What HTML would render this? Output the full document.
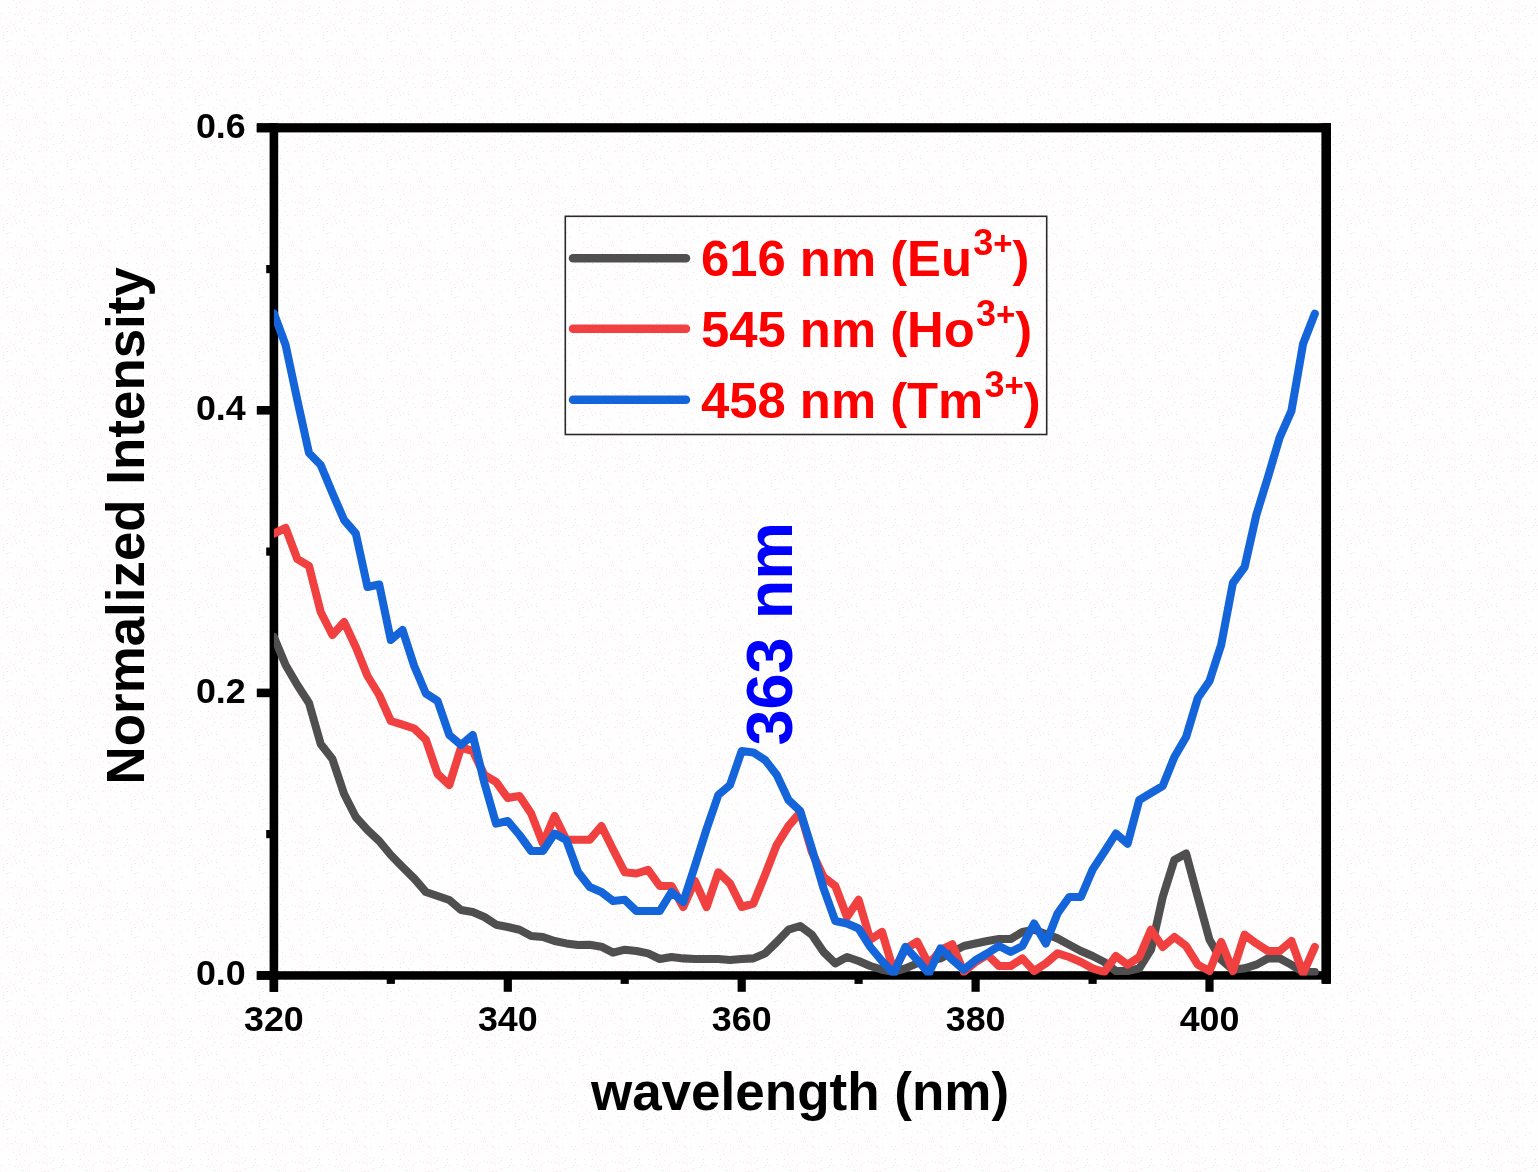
<!DOCTYPE html>
<html><head><meta charset="utf-8"><title>Excitation spectra</title>
<style>
html,body{margin:0;padding:0;background:#fffefe;}
body{width:1538px;height:1172px;overflow:hidden;}
svg{display:block;font-family:"Liberation Sans",Arial,sans-serif;font-weight:bold;}
.tick{font-size:35.8px;fill:#000;}
.title{font-size:53px;fill:#000;}
.leg{font-size:50.8px;fill:#ff0000;}
.sup{font-size:36px;}
.curve{fill:none;stroke-width:8.1;stroke-linejoin:round;stroke-linecap:round;}
</style></head><body>
<svg width="1538" height="1172" viewBox="0 0 1538 1172">
<defs><pattern id="dith" width="64" height="64" patternUnits="userSpaceOnUse"><g fill="#ffe2e8"><rect x="41" y="19" width="1" height="1"/><rect x="50" y="6" width="1" height="1"/><rect x="9" y="12" width="1" height="1"/><rect x="46" y="7" width="1" height="1"/><rect x="27" y="4" width="1" height="1"/><rect x="11" y="55" width="1" height="1"/><rect x="53" y="8" width="1" height="1"/><rect x="30" y="11" width="1" height="1"/><rect x="15" y="28" width="1" height="1"/><rect x="7" y="50" width="1" height="1"/><rect x="6" y="28" width="1" height="1"/><rect x="5" y="17" width="1" height="1"/><rect x="37" y="53" width="1" height="1"/><rect x="18" y="15" width="1" height="1"/><rect x="39" y="23" width="1" height="1"/><rect x="13" y="24" width="1" height="1"/><rect x="47" y="12" width="1" height="1"/><rect x="8" y="7" width="1" height="1"/><rect x="26" y="63" width="1" height="1"/><rect x="54" y="40" width="1" height="1"/><rect x="59" y="58" width="1" height="1"/><rect x="46" y="38" width="1" height="1"/><rect x="31" y="23" width="1" height="1"/><rect x="38" y="63" width="1" height="1"/><rect x="43" y="57" width="1" height="1"/><rect x="36" y="9" width="1" height="1"/><rect x="15" y="53" width="1" height="1"/><rect x="21" y="43" width="1" height="1"/><rect x="19" y="62" width="1" height="1"/><rect x="53" y="5" width="1" height="1"/><rect x="9" y="40" width="1" height="1"/><rect x="43" y="44" width="1" height="1"/><rect x="63" y="58" width="1" height="1"/><rect x="34" y="60" width="1" height="1"/><rect x="39" y="57" width="1" height="1"/><rect x="36" y="49" width="1" height="1"/><rect x="44" y="2" width="1" height="1"/><rect x="59" y="45" width="1" height="1"/><rect x="21" y="14" width="1" height="1"/><rect x="63" y="7" width="1" height="1"/><rect x="27" y="36" width="1" height="1"/><rect x="16" y="31" width="1" height="1"/><rect x="50" y="50" width="1" height="1"/><rect x="63" y="10" width="1" height="1"/><rect x="21" y="57" width="1" height="1"/><rect x="51" y="35" width="1" height="1"/><rect x="17" y="55" width="1" height="1"/><rect x="35" y="53" width="1" height="1"/><rect x="45" y="48" width="1" height="1"/><rect x="29" y="19" width="1" height="1"/><rect x="10" y="22" width="1" height="1"/><rect x="19" y="29" width="1" height="1"/><rect x="29" y="1" width="1" height="1"/><rect x="62" y="23" width="1" height="1"/><rect x="33" y="36" width="1" height="1"/><rect x="0" y="18" width="1" height="1"/><rect x="53" y="47" width="1" height="1"/><rect x="40" y="16" width="1" height="1"/><rect x="6" y="58" width="1" height="1"/><rect x="13" y="61" width="1" height="1"/><rect x="24" y="8" width="1" height="1"/><rect x="26" y="56" width="1" height="1"/><rect x="43" y="6" width="1" height="1"/><rect x="13" y="0" width="1" height="1"/><rect x="19" y="12" width="1" height="1"/><rect x="46" y="3" width="1" height="1"/><rect x="9" y="26" width="1" height="1"/><rect x="48" y="19" width="1" height="1"/><rect x="32" y="44" width="1" height="1"/><rect x="46" y="60" width="1" height="1"/><rect x="15" y="14" width="1" height="1"/><rect x="61" y="61" width="1" height="1"/><rect x="39" y="10" width="1" height="1"/><rect x="43" y="33" width="1" height="1"/><rect x="61" y="20" width="1" height="1"/><rect x="2" y="26" width="1" height="1"/><rect x="46" y="18" width="1" height="1"/><rect x="3" y="38" width="1" height="1"/><rect x="11" y="33" width="1" height="1"/><rect x="46" y="21" width="1" height="1"/><rect x="45" y="28" width="1" height="1"/><rect x="42" y="28" width="1" height="1"/><rect x="24" y="30" width="1" height="1"/><rect x="51" y="29" width="1" height="1"/><rect x="3" y="35" width="1" height="1"/><rect x="60" y="33" width="1" height="1"/><rect x="24" y="44" width="1" height="1"/><rect x="57" y="44" width="1" height="1"/><rect x="46" y="10" width="1" height="1"/><rect x="28" y="13" width="1" height="1"/><rect x="29" y="60" width="1" height="1"/><rect x="26" y="61" width="1" height="1"/><rect x="0" y="61" width="1" height="1"/><rect x="44" y="10" width="1" height="1"/><rect x="15" y="49" width="1" height="1"/><rect x="22" y="55" width="1" height="1"/><rect x="42" y="11" width="1" height="1"/><rect x="50" y="59" width="1" height="1"/><rect x="51" y="10" width="1" height="1"/><rect x="20" y="21" width="1" height="1"/><rect x="16" y="3" width="1" height="1"/><rect x="19" y="59" width="1" height="1"/><rect x="44" y="19" width="1" height="1"/><rect x="1" y="13" width="1" height="1"/><rect x="24" y="27" width="1" height="1"/><rect x="3" y="32" width="1" height="1"/><rect x="30" y="41" width="1" height="1"/><rect x="33" y="53" width="1" height="1"/></g><g fill="#dfe5f4"><rect x="16" y="7" width="1" height="1"/><rect x="45" y="58" width="1" height="1"/><rect x="53" y="16" width="1" height="1"/><rect x="19" y="2" width="1" height="1"/><rect x="56" y="23" width="1" height="1"/><rect x="22" y="18" width="1" height="1"/><rect x="60" y="15" width="1" height="1"/><rect x="7" y="41" width="1" height="1"/><rect x="61" y="13" width="1" height="1"/><rect x="7" y="31" width="1" height="1"/><rect x="24" y="35" width="1" height="1"/></g><g fill="#ffffd6"><rect x="5" y="12" width="1" height="1"/><rect x="57" y="3" width="1" height="1"/><rect x="8" y="56" width="1" height="1"/><rect x="41" y="25" width="1" height="1"/><rect x="35" y="57" width="1" height="1"/><rect x="61" y="31" width="1" height="1"/><rect x="33" y="25" width="1" height="1"/><rect x="57" y="17" width="1" height="1"/><rect x="50" y="56" width="1" height="1"/><rect x="30" y="54" width="1" height="1"/><rect x="38" y="15" width="1" height="1"/></g></pattern><clipPath id="plot"><rect x="273.9" y="127.8" width="1052.3000000000002" height="847.6"/></clipPath></defs>
<rect x="0" y="0" width="1538" height="1172" fill="#fffefe"/><rect x="0" y="0" width="1538" height="1172" fill="url(#dith)"/>
<g fill="#000">
<rect x="269.6" y="123.2" width="8.6" height="868.6"/>
<rect x="1321.4" y="123.2" width="9.6" height="860.5"/>
<rect x="256.8" y="123.2" width="1074.2" height="9.2"/>
<rect x="256.8" y="971.2" width="1074.2" height="8.5"/>
<rect x="269.8" y="975.4" width="8.2" height="16.4"/><rect x="503.7" y="975.4" width="8.2" height="16.4"/><rect x="737.6" y="975.4" width="8.2" height="16.4"/><rect x="971.5" y="975.4" width="8.2" height="16.4"/><rect x="1205.4" y="975.4" width="8.2" height="16.4"/><rect x="386.7" y="975.4" width="8.2" height="8.5"/><rect x="620.6" y="975.4" width="8.2" height="8.5"/><rect x="854.5" y="975.4" width="8.2" height="8.5"/><rect x="1088.5" y="975.4" width="8.2" height="8.5"/><rect x="1322.3" y="975.4" width="8.2" height="8.5"/><rect x="256.8" y="971.1" width="17.1" height="8.6"/><rect x="256.8" y="688.6" width="17.1" height="8.6"/><rect x="256.8" y="406.0" width="17.1" height="8.6"/><rect x="256.8" y="123.5" width="17.1" height="8.6"/><rect x="266.2" y="830.0" width="7.7" height="8.2"/><rect x="266.2" y="547.5" width="7.7" height="8.2"/><rect x="266.2" y="265.0" width="7.7" height="8.2"/>
</g>
<g class="tick"><text x="273.9" y="1031" text-anchor="middle">320</text><text x="507.8" y="1031" text-anchor="middle">340</text><text x="741.7" y="1031" text-anchor="middle">360</text><text x="975.6" y="1031" text-anchor="middle">380</text><text x="1209.5" y="1031" text-anchor="middle">400</text><text x="245.7" y="985.1" text-anchor="end">0.0</text><text x="245.7" y="702.6" text-anchor="end">0.2</text><text x="245.7" y="420.0" text-anchor="end">0.4</text><text x="245.7" y="137.5" text-anchor="end">0.6</text></g>
<g clip-path="url(#plot)">
<polyline class="curve" stroke="#4f4f4f" points="273.9,637.0 285.6,665.0 297.3,685.0 309.0,703.0 320.7,744.0 332.4,759.0 344.1,794.0 355.8,817.0 367.5,830.0 379.2,841.0 390.8,855.0 402.5,867.0 414.2,878.5 425.9,892.0 437.6,896.0 449.3,900.0 461.0,910.0 472.7,912.0 484.4,917.0 496.1,924.7 507.8,927.0 519.5,929.7 531.2,936.0 542.9,937.0 554.6,941.0 566.3,943.4 578.0,945.0 589.7,944.7 601.4,946.7 613.1,952.7 624.8,949.7 636.4,951.0 648.1,953.4 659.8,959.0 671.5,957.0 683.2,958.4 694.9,959.0 706.6,959.0 718.3,959.0 730.0,960.0 741.7,959.0 753.4,958.4 765.1,953.4 776.8,942.0 788.5,929.7 800.2,926.0 811.9,934.7 823.6,952.0 835.3,963.4 847.0,957.0 858.6,961.0 870.3,966.0 882.0,969.7 893.7,972.0 905.4,968.4 917.1,963.4 928.8,961.0 940.5,958.4 952.2,952.0 963.9,946.0 975.6,943.5 987.3,941.0 999.0,939.0 1010.7,939.0 1022.4,932.0 1034.1,929.7 1045.8,934.0 1057.5,938.4 1069.2,944.7 1080.9,951.0 1092.5,956.0 1104.2,962.0 1115.9,971.0 1127.6,971.0 1139.3,968.4 1151.0,949.7 1162.7,897.0 1174.4,859.8 1186.1,853.6 1197.8,897.0 1209.5,939.7 1221.2,959.7 1232.9,969.7 1244.6,968.4 1256.3,964.7 1268.0,958.4 1279.7,958.4 1291.4,964.7 1303.1,972.0 1314.8,972.0"/>
<polyline class="curve" stroke="#f04040" points="273.9,533.5 285.6,528.0 297.3,559.0 309.0,566.0 320.7,612.0 332.4,635.0 344.1,622.0 355.8,647.0 367.5,676.0 379.2,695.0 390.8,721.0 402.5,724.7 414.2,728.5 425.9,739.7 437.6,774.0 449.3,785.0 461.0,747.5 472.7,751.0 484.4,775.0 496.1,782.0 507.8,798.0 519.5,796.0 531.2,813.6 542.9,843.6 554.6,816.0 566.3,839.8 578.0,839.8 589.7,839.8 601.4,826.0 613.1,849.5 624.8,872.3 636.4,873.5 648.1,869.8 659.8,886.0 671.5,886.0 683.2,907.0 694.9,881.0 706.6,907.0 718.3,872.3 730.0,883.5 741.7,907.0 753.4,903.5 765.1,874.8 776.8,844.8 788.5,826.0 800.2,812.4 811.9,852.0 823.6,877.0 835.3,886.0 847.0,917.0 858.6,899.8 870.3,939.7 882.0,932.0 893.7,971.0 905.4,949.0 917.1,941.7 928.8,964.7 940.5,950.0 952.2,944.3 963.9,972.0 975.6,962.0 987.3,954.7 999.0,966.0 1010.7,966.0 1022.4,958.4 1034.1,971.0 1045.8,963.4 1057.5,953.4 1069.2,957.0 1080.9,962.0 1092.5,968.4 1104.2,972.0 1115.9,956.0 1127.6,964.7 1139.3,957.0 1151.0,929.7 1162.7,947.0 1174.4,937.0 1186.1,946.0 1197.8,964.7 1209.5,971.0 1221.2,942.0 1232.9,971.0 1244.6,934.7 1256.3,943.4 1268.0,951.0 1279.7,951.0 1291.4,941.0 1303.1,973.4 1314.8,947.0"/>
<polyline class="curve" stroke="#1565da" points="273.9,313.5 285.6,345.0 297.3,400.0 309.0,453.0 320.7,465.0 332.4,493.0 344.1,520.0 355.8,533.5 367.5,587.0 379.2,584.5 390.8,640.0 402.5,630.0 414.2,666.0 425.9,693.5 437.6,701.0 449.3,735.0 461.0,745.0 472.7,735.0 484.4,783.0 496.1,823.6 507.8,821.0 519.5,835.0 531.2,851.0 542.9,851.0 554.6,833.6 566.3,840.0 578.0,872.0 589.7,887.0 601.4,892.0 613.1,901.0 624.8,899.8 636.4,911.0 648.1,911.0 659.8,911.0 671.5,892.0 683.2,902.0 694.9,866.0 706.6,829.0 718.3,795.0 730.0,785.0 741.7,751.0 753.4,752.4 765.1,760.0 776.8,775.0 788.5,800.0 800.2,811.0 811.9,848.6 823.6,888.5 835.3,921.0 847.0,923.5 858.6,928.5 870.3,947.0 882.0,961.0 893.7,973.4 905.4,947.0 917.1,959.7 928.8,973.4 940.5,948.4 952.2,959.7 963.9,969.7 975.6,960.0 987.3,953.4 999.0,946.0 1010.7,952.0 1022.4,946.0 1034.1,923.5 1045.8,943.4 1057.5,913.5 1069.2,897.0 1080.9,897.0 1092.5,869.8 1104.2,852.0 1115.9,833.6 1127.6,843.6 1139.3,799.9 1151.0,793.0 1162.7,786.0 1174.4,757.0 1186.1,737.0 1197.8,698.0 1209.5,681.0 1221.2,644.8 1232.9,583.0 1244.6,567.0 1256.3,515.0 1268.0,477.0 1279.7,437.3 1291.4,411.0 1303.1,343.7 1314.8,313.7"/>
</g>
<rect x="565.3" y="216.3" width="481.4" height="218.2" fill="none" stroke="#2a2a2a" stroke-width="1.6"/>
<g stroke-width="8.5" stroke-linecap="round" fill="none">
<line x1="573" y1="258.3" x2="686" y2="258.3" stroke="#4f4f4f"/>
<line x1="573" y1="328.8" x2="686" y2="328.8" stroke="#f04040"/>
<line x1="573" y1="399.7" x2="686" y2="399.7" stroke="#1565da"/>
</g>
<g class="leg">
<text x="701" y="276">616 nm (Eu<tspan class="sup" dx="1.2" dy="-21">3<tspan font-size="33">+</tspan></tspan><tspan dx="0" dy="21">)</tspan></text>
<text x="701" y="346.5">545 nm (Ho<tspan class="sup" dx="1.2" dy="-21">3<tspan font-size="33">+</tspan></tspan><tspan dx="0" dy="21">)</tspan></text>
<text x="701" y="418">458 nm (Tm<tspan class="sup" dx="1.2" dy="-21">3<tspan font-size="33">+</tspan></tspan><tspan dx="0" dy="21">)</tspan></text>
</g>
<text class="title" x="800" y="1110.2" text-anchor="middle">wavelength (nm)</text>
<text class="title" style="font-size:52.9px" transform="translate(144.4,525.8) rotate(-90)" text-anchor="middle">Normalized Intensity</text>
<text transform="translate(792,745.6) rotate(-90)" font-size="64.9" fill="#0000ff">363 nm</text>
</svg>
</body></html>
